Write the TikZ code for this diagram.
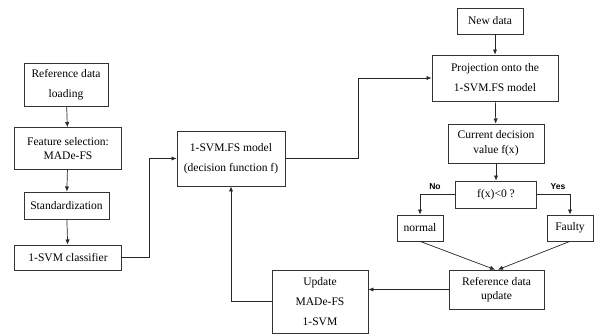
\documentclass[tikz,border=0pt]{standalone}
\usepackage{fontspec}
\setmainfont{Liberation Serif}
\setsansfont{Liberation Sans}
\usetikzlibrary{arrows.meta, positioning, calc}

\tikzset{
    box/.style={
        rectangle, draw=black!80, line width=0.7pt, inner sep=0pt,
        align=center, font=\fontsize{11.5}{19.8}\selectfont
    },
    tightbox/.style={box, font=\fontsize{11.5}{14.5}\selectfont},
    arrow/.style={-{Latex[length=1.8mm, width=1.5mm]}, line width=0.7pt, color=black!85},
    answer/.style={font=\sffamily\bfseries\fontsize{8.5}{10}\selectfont},
}

\begin{document}
\begin{tikzpicture}[x=0.035cm, y=-0.035cm]
    \useasboundingbox (0,0) rectangle (596,334);

    % training path
    \node[box, minimum width=2.94cm, minimum height=1.505cm] (load) at (66,84.5) {Reference data\\loading};
    \node[tightbox, minimum width=3.745cm, minimum height=1.47cm] (featsel) at (68,148.5) {Feature selection:\\MADe-FS};
    \node[box, minimum width=2.975cm, minimum height=0.945cm] (stdz) at (66.5,205.5) {Standardization};
    \node[box, minimum width=3.745cm, minimum height=0.875cm] (svmclf) at (68,257.5) {1-SVM classifier};

    \node[box, minimum width=3.78cm, minimum height=1.925cm] (fsmodel) at (231,158.5) {1-SVM.FS model\\(decision function f)};
    \node[box, minimum width=3.36cm, minimum height=2.2cm] (update) at (320,301.5) {Update\\MADe-FS\\1-SVM};

    % test path
    \node[box, minimum width=2.31cm, minimum height=0.91cm] (newdata) at (490,21) {New data};
    \node[box, minimum width=4.41cm, minimum height=1.61cm] (proj) at (495,78) {Projection onto the\\1-SVM.FS model};
    \node[tightbox, minimum width=3.36cm, minimum height=1.365cm] (curdec) at (496,143.5) {Current decision\\value f(x)};
    \node[box, minimum width=2.835cm, minimum height=0.945cm] (test) at (496,194.5) {f(x)<0 ?};
    \node[box, minimum width=1.61cm, minimum height=0.91cm] (normal) at (420,228) {normal};
    \node[box, minimum width=1.61cm, minimum height=0.91cm] (faulty) at (570,228) {Faulty};
    \node[tightbox, minimum width=3.325cm, minimum height=1.365cm] (refupd) at (496.5,289.5) {Reference data\\update};

    \node[answer] (nolabel) at (435,187) {No};
    \node[answer] (yeslabel) at (558,187) {Yes};

    \draw[arrow] (load) -- (featsel);
    \draw[arrow] (featsel) -- (stdz);
    \draw[arrow] (stdz) -- (svmclf);
    \draw[arrow] (svmclf.east) -- ++(28,0) |- (fsmodel.west);
    \draw[arrow] (fsmodel.east) -- ++(73,0) |- (proj.west);

    \draw[arrow] (newdata.south -| proj.north) -- (proj.north);
    \draw[arrow] (proj) -- (curdec);
    \draw[arrow] (curdec) -- (test);
    \draw[arrow] (test.west) -| (normal.north);
    \draw[arrow] (test.east) -| (faulty.north);
    \draw[arrow] (normal.south) -- ([xshift=-0.05cm]refupd.north);
    \draw[arrow] (faulty.south) -- ([xshift=0.05cm]refupd.north);

    \draw[arrow] (refupd.west) -- (refupd.west -| update.east);
    \draw[arrow] (update.west) -| (fsmodel.south);
\end{tikzpicture}
\end{document}
